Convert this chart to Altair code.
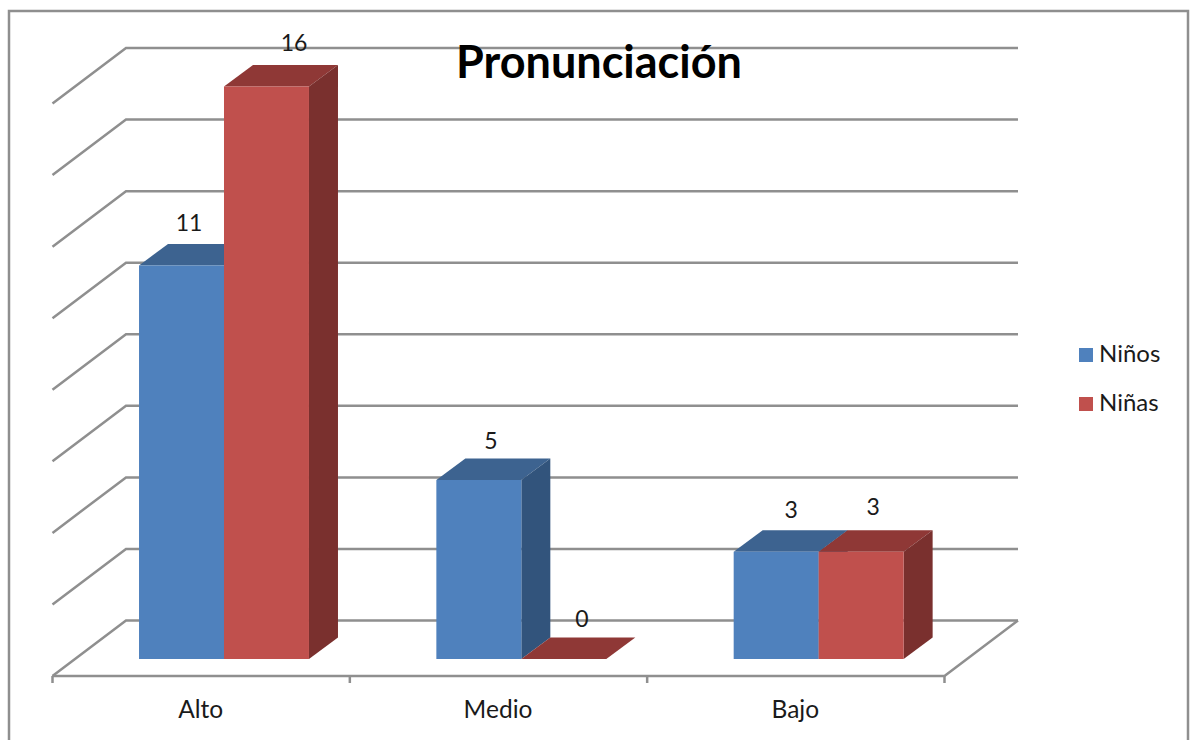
import altair as alt
import pandas as pd

# Chart values
categories = ["Alto", "Medio", "Bajo"]
ninos = [11, 5, 3]
ninas = [16, 0, 3]
grid_levels = [0, 2, 4, 6, 8, 10, 12, 14, 16]
category_edges = [0, 1, 2, 3]

FONT = "Lato"
W, H = 1194, 740

# Pixel calibration of the two linear scales
UX = 297.33   # pixels per category
UY = 35.78    # pixels per value unit
X0 = 52.5     # pixel of category edge 0
Y0 = 659.0    # pixel of value 0 at the bars' front face
x_scale = alt.Scale(domain=[-X0 / UX, (W - X0) / UX], range=[0, W], nice=False, zero=False)
y_scale = alt.Scale(domain=[(Y0 - H) / UY, Y0 / UY], range=[H, 0], nice=False, zero=False)

# Oblique projection
FLOOR = -17 / UY           # front edge of the floor, below the bars' base
WALL_DX = 73.5 / UX        # depth of the chart box
WALL_DY = 55.5 / UY
BAR_DX = 29 / UX           # depth of a bar
BAR_DY = 21.5 / UY
BAR_START = 0.291          # gap before the first bar of a category
BAR_W = 0.2858
N_CAT = len(categories)

BLUE = {"front": "#4f81bd", "top": "#3d6390", "side": "#32547c"}
RED = {"front": "#c0504d", "top": "#8f3836", "side": "#7a302e"}
GREY = "#8f8f8f"
INK = "#1a1a1a"


def series_faces(values, slot, name):
    front, side, top = [], [], []
    for i, v in enumerate(values):
        x0 = i + BAR_START + slot * BAR_W
        x1 = x0 + BAR_W
        front.append({"serie": name, "x0": x0, "x1": x1, "v": v, "base": 0, "cat": categories[i]})
        side.append({"id": i, "x": x1, "y": v, "y2": 0})
        side.append({"id": i, "x": x1 + BAR_DX, "y": v + BAR_DY, "y2": BAR_DY})
        top.append({"id": i, "y": v, "x": x0, "x2": x1})
        top.append({"id": i, "y": v + BAR_DY, "x": x0 + BAR_DX, "x2": x1 + BAR_DX})
    return pd.DataFrame(front), pd.DataFrame(side), pd.DataFrame(top)


def bar_layers(values, slot, name, colors):
    front, side, top = series_faces(values, slot, name)
    top_face = alt.Chart(top).mark_area(orient="horizontal", color=colors["top"]).encode(
        y=alt.Y("y:Q", scale=y_scale, axis=None),
        x=alt.X("x:Q", scale=x_scale, axis=None),
        x2="x2:Q",
        detail="id:N",
    )
    side_face = alt.Chart(side).mark_area(orient="vertical", color=colors["side"]).encode(
        x=alt.X("x:Q", scale=x_scale, axis=None),
        y=alt.Y("y:Q", scale=y_scale, axis=None),
        y2="y2:Q",
        detail="id:N",
    )
    front_face = alt.Chart(front).mark_rect().encode(
        x=alt.X("x0:Q", scale=x_scale, axis=None),
        x2="x1:Q",
        y=alt.Y("v:Q", scale=y_scale, axis=None),
        y2="base:Q",
        color=alt.Color(
            "serie:N",
            scale=alt.Scale(domain=["Niños", "Niñas"], range=[BLUE["front"], RED["front"]]),
            legend=alt.Legend(
                title=None,
                orient="none",
                legendX=1074,
                legendY=343,
                symbolType="square",
                symbolSize=196,
                symbolStrokeWidth=0,
                labelFont=FONT,
                labelFontSize=24,
                labelColor=INK,
                labelOffset=1,
                rowPadding=25,
                padding=0,
            ),
        ),
    )
    return [top_face, side_face, front_face]


# Back wall and side wall of the box, one polyline per gridline
wall_rows = []
for g in grid_levels:
    wall_rows.append({"g": g, "o": 0, "x": 0, "y": FLOOR + g})
    wall_rows.append({"g": g, "o": 1, "x": WALL_DX, "y": FLOOR + WALL_DY + g})
    wall_rows.append({"g": g, "o": 2, "x": N_CAT + WALL_DX, "y": FLOOR + WALL_DY + g})
walls = alt.Chart(pd.DataFrame(wall_rows)).mark_line(color=GREY, strokeWidth=2.5).encode(
    x=alt.X("x:Q", scale=x_scale, axis=None),
    y=alt.Y("y:Q", scale=y_scale, axis=None),
    order="o:Q",
    detail="g:N",
)

# Floor's front edge and right edge
floor_rows = [
    {"o": 0, "x": 0, "y": FLOOR},
    {"o": 1, "x": N_CAT, "y": FLOOR},
    {"o": 2, "x": N_CAT + WALL_DX, "y": FLOOR + WALL_DY},
]
floor = alt.Chart(pd.DataFrame(floor_rows)).mark_line(color=GREY, strokeWidth=2.5).encode(
    x=alt.X("x:Q", scale=x_scale, axis=None),
    y=alt.Y("y:Q", scale=y_scale, axis=None),
    order="o:Q",
)

# Tick marks at the category edges
ticks_df = pd.DataFrame({"x": category_edges, "y": [FLOOR] * 4, "y2": [FLOOR - 7 / UY] * 4})
ticks = alt.Chart(ticks_df).mark_rule(color=GREY, strokeWidth=2.5).encode(
    x=alt.X("x:Q", scale=x_scale, axis=None),
    y=alt.Y("y:Q", scale=y_scale, axis=None),
    y2="y2:Q",
)

# Category labels under the floor
cat_df = pd.DataFrame({"x": [i + 0.5 for i in range(N_CAT)], "y": [-51.5 / UY] * N_CAT, "t": categories})
cat_labels = alt.Chart(cat_df).mark_text(
    font=FONT, fontSize=24.5, color=INK, baseline="middle", align="center", dx=-0.5
).encode(
    x=alt.X("x:Q", scale=x_scale, axis=None),
    y=alt.Y("y:Q", scale=y_scale, axis=None),
    text="t:N",
)


# Value labels sit above the bars, each with its own nudge in pixels
def value_label(cat_index, slot, value, dx, dy):
    d = pd.DataFrame({"x": [cat_index + BAR_START + (slot + 0.5) * BAR_W], "y": [value], "t": [str(value)]})
    return alt.Chart(d).mark_text(
        font=FONT, fontSize=23, color=INK, baseline="middle", align="center", dx=dx, dy=dy
    ).encode(
        x=alt.X("x:Q", scale=x_scale, axis=None),
        y=alt.Y("y:Q", scale=y_scale, axis=None),
        text="t:N",
    )


nudges_ninos = [(7.5, -41), (12, -38), (15, -41)]
nudges_ninas = [(27.5, -42.5), (18, -39), (12, -44)]
value_labels = [value_label(i, 0, v, *nudges_ninos[i]) for i, v in enumerate(ninos)]
value_labels += [value_label(i, 1, v, *nudges_ninas[i]) for i, v in enumerate(ninas)]

# Outer frame around the chart area
frame = alt.Chart(pd.DataFrame({"a": [0]})).mark_rect(
    filled=False, stroke=GREY, strokeWidth=2.5
).encode(
    x=alt.value(9), x2=alt.value(1188), y=alt.value(11), y2=alt.value(760)
)

layers = [frame, walls, floor, ticks]
layers += bar_layers(ninos, 0, "Niños", BLUE)
layers += bar_layers(ninas, 1, "Niñas", RED)
layers += [cat_labels] + value_labels

chart = alt.layer(*layers).properties(
    width=W,
    height=H,
    padding=0,
    autosize=alt.AutoSizeParams(type="none"),
    background="white",
    title=alt.TitleParams(
        "Pronunciación",
        font=FONT,
        fontSize=45,
        fontWeight="bold",
        color="black",
        anchor="middle",
        dx=2,
        dy=91,
    ),
).configure_view(stroke=None)

chart.save("out.html", embed_options={"renderer": "svg", "actions": False})
